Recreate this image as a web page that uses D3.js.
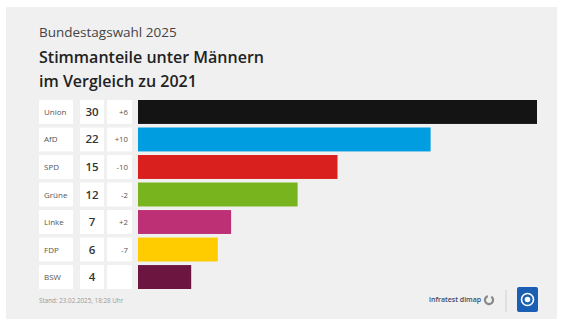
<!DOCTYPE html>
<html><head><meta charset="utf-8">
<script src="https://cdn.jsdelivr.net/npm/d3@7"></script>
<style>body{margin:0;background:#fff}svg{display:block}</style>
</head><body><svg id="c" width="562" height="322"></svg>
<script>
const parties = ["Union","AfD","SPD","Grüne","Linke","FDP","BSW"];
const shares = [30,22,15,12,7,6,4];
const changes = ["+6","+10","-10","-2","+2","-7",""];
const colors = ["#141414","#009ee0","#d9201f","#78b41e","#be3075","#ffcc00","#6b1540"];

const svg = d3.select("#c");
const font = "'Open Sans', sans-serif";
svg.append("rect").attr("x",6).attr("y",7).attr("width",551).attr("height",312).attr("fill","#f0f0f0");

svg.append("text").attr("x",39).attr("y",37).attr("font-family",font).attr("font-size",13.5).attr("fill","#444").text("Bundestagswahl 2025");
svg.append("text").attr("x",39).attr("y",63).attr("font-family",font).attr("font-weight",600).attr("font-size",16).attr("fill","#222").text("Stimmanteile unter Männern");
svg.append("text").attr("x",39).attr("y",87).attr("font-family",font).attr("font-weight",600).attr("font-size",16).attr("fill","#222").text("im Vergleich zu 2021");

const y = d3.scaleBand().domain(parties).range([100,289]).paddingInner(0.13).paddingOuter(0);
const x = d3.scaleLinear().domain([0,30]).range([138,537]);

const rows = svg.append("g").selectAll("g").data(parties).join("g");
rows.append("rect").attr("x",39).attr("y",d=>y(d)).attr("width",34).attr("height",y.bandwidth()).attr("fill","#fff");
rows.append("rect").attr("x",80).attr("y",d=>y(d)).attr("width",24).attr("height",y.bandwidth()).attr("fill","#fff");
rows.append("rect").attr("x",107).attr("y",d=>y(d)).attr("width",25).attr("height",y.bandwidth()).attr("fill","#fff");
rows.append("text").attr("x",44).attr("y",d=>y(d)+y.bandwidth()/2+3).attr("font-family",font).attr("font-size",8).attr("fill","#555").text(d=>d);
rows.append("text").attr("x",92).attr("y",d=>y(d)+y.bandwidth()/2+4).attr("text-anchor","middle").attr("font-family",font).attr("font-weight",600).attr("font-size",11.5).attr("fill","#333").text((d,i)=>shares[i]);
rows.append("text").attr("x",128).attr("y",d=>y(d)+y.bandwidth()/2+3).attr("text-anchor","end").attr("font-family",font).attr("font-size",7.8).attr("fill","#555").text((d,i)=>changes[i]);
rows.append("rect").attr("x",x(0)).attr("y",d=>y(d)).attr("width",(d,i)=>x(shares[i])-x(0)).attr("height",y.bandwidth()).attr("fill",(d,i)=>colors[i]);

svg.append("text").attr("x",39).attr("y",303).attr("font-family",font).attr("font-size",6.3).attr("fill","#999").text("Stand:  23.02.2025, 18:28 Uhr");

svg.append("text").attr("x",429).attr("y",302).attr("font-family",font).attr("font-size",7).attr("font-weight",600).attr("fill","#3a4a6a").text("infratest dimap");
const arc = d3.arc().innerRadius(3).outerRadius(5.2).startAngle(0.6).endAngle(2*Math.PI-0.3);
svg.append("path").attr("d",arc()).attr("transform","translate(489,300)").attr("fill","#888");
svg.append("line").attr("x1",506).attr("x2",506).attr("y1",290).attr("y2",312).attr("stroke","#d0d0d0");
svg.append("rect").attr("x",517).attr("y",287).attr("width",21).attr("height",25).attr("rx",2).attr("fill","#1a5fb4");
svg.append("circle").attr("cx",527.5).attr("cy",299.5).attr("r",6).attr("fill","none").attr("stroke","#fff").attr("stroke-width",1.6);
svg.append("circle").attr("cx",527.5).attr("cy",299.5).attr("r",2.8).attr("fill","#fff");
</script></body></html>
